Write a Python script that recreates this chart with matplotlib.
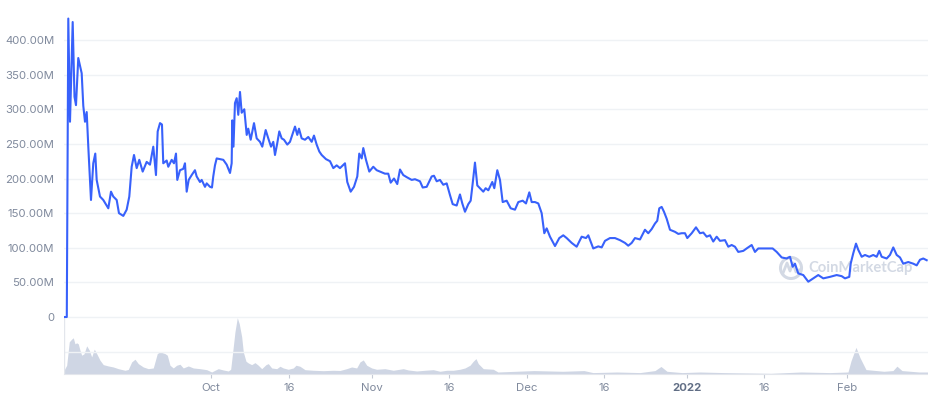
import matplotlib
matplotlib.use("Agg")
import matplotlib.pyplot as plt
from matplotlib.patches import Circle
import pandas as pd

plt.rcParams['font.family'] = ['Inter', 'DejaVu Sans']

start = pd.Timestamp("2021-09-03")

# market cap (millions USD), time in days after Sep 3 2021
sep_days = [-0.48, 0.06, 0.35, 0.68, 1.20, 1.55, 1.84, 2.28, 2.94, 3.25,
            3.58, 3.91, 4.22, 4.74, 5.18, 5.57, 5.84, 6.48, 7.12, 8.09,
            8.61, 9.05, 9.71, 10.15, 10.99, 11.64, 12.15, 12.61, 13.06, 13.58,
            14.08, 14.74, 15.51, 16.15, 16.79, 17.31, 17.64, 18.09, 18.47, 18.72,
            19.38, 19.69, 20.35, 20.79, 21.18, 21.43, 21.95, 22.59, 22.92, 23.25,
            23.64, 24.22, 24.85, 25.18, 25.82, 26.15, 26.79, 27.12, 27.76, 28.14,
            28.39, 28.72, 29.05, 29.69, 30.33, 30.99, 31.63, 31.95, 32.07, 32.30,
            32.59, 32.92, 33.23, 33.56, 33.89, 34.39, 34.86, 35.16, 35.63, 36.27,
            36.79, 37.43, 37.87, 38.53, 39.03, 39.56, 40.00, 40.33, 40.77, 41.16,
            41.62, 42.07, 42.71, 43.23, 43.75, 44.20, 44.64, 44.97, 45.49, 46.13,
            46.77, 47.43, 47.87, 48.39, 48.90]
sep_mcap = [0, 0, 431, 282, 426, 318, 306, 374, 352, 305,
            282, 296, 246, 169, 222, 236, 198, 174, 169, 157,
            181, 174, 169, 150, 146, 155, 174, 217, 234, 215,
            227, 210, 224, 220, 246, 205, 268, 280, 278, 222,
            226, 217, 227, 222, 236, 198, 212, 214, 222, 181,
            198, 205, 212, 203, 195, 198, 188, 193, 188, 187,
            203, 219, 229, 228, 227, 220, 208, 222, 284, 246,
            309, 316, 292, 325, 295, 300, 263, 272, 256, 280,
            258, 253, 246, 270, 258, 246, 253, 234, 251, 268,
            258, 256, 249, 253, 265, 275, 263, 272, 258, 256,
            260, 253, 262, 249, 239]

nov_days = [49.36, 50.19, 50.97, 51.61, 52.26, 52.90, 53.87, 54.31, 54.97, 55.61,
            56.25, 56.63, 57.10, 57.41, 57.93, 58.57, 59.34, 60.00, 60.64, 61.60,
            62.24, 62.71, 63.35, 63.98, 64.51, 65.14, 65.80, 66.77, 67.41, 68.37,
            68.90, 69.67, 70.64, 71.08, 71.61, 72.24, 72.88, 73.54, 74.18, 74.70,
            75.47, 76.11, 76.56, 77.08, 77.72, 78.18, 78.57, 79.01, 79.46, 79.98,
            80.62, 81.08, 81.59, 82.36, 82.75, 83.33, 83.85, 84.37, 85.14, 85.92,
            86.75, 87.39, 88.24, 88.88, 89.52, 89.98, 90.62, 91.26, 91.91, 92.42,
            92.88, 93.52, 94.49, 95.32, 96.09, 96.75, 97.72, 98.68, 99.65, 100.48,
            100.93, 101.89, 102.86, 103.52, 104.16]
nov_mcap = [234, 228, 225, 215, 219, 215, 222, 195, 181, 188,
            203, 236, 229, 244, 227, 210, 217, 212, 210, 207,
            207, 194, 200, 192, 213, 205, 202, 198, 199, 196,
            187, 188, 203, 204, 196, 198, 191, 193, 176, 163,
            161, 177, 164, 152, 163, 168, 193, 223, 190, 186,
            181, 186, 183, 195, 186, 212, 198, 166, 168, 157,
            155, 166, 168, 164, 180, 166, 166, 164, 150, 121,
            128, 116, 102.5, 114, 118, 114, 107, 101.5, 116, 114,
            118, 99, 102, 100.5, 110]

jan_days = [105.12, 106.09, 107.06, 108.03, 108.66, 109.32, 109.96, 110.93, 111.89, 112.53,
            113.19, 113.83, 114.27, 114.66, 115.12, 115.57, 116.09, 116.73, 117.70, 118.34,
            118.99, 119.63, 120.08, 120.93, 121.76, 122.53, 123.17, 123.83, 124.47, 125.10,
            125.76, 126.40, 127.37, 128.01, 128.66, 129.30, 129.94, 130.91, 131.56, 132.53,
            133.17, 133.81, 134.78, 135.74, 136.59, 137.37, 138.34, 139.30, 139.94, 140.46,
            140.91, 141.54, 142.51, 143.48, 144.45, 145.41, 146.38, 147.68, 148.97, 149.94,
            150.58, 151.41, 151.68, 152.18, 152.71, 153.15, 153.81, 154.45, 155.28, 156.05,
            156.71, 157.21, 157.68, 158.64, 159.28, 159.92, 160.58, 161.22, 161.85, 162.82,
            163.79, 164.45, 165.09, 165.72, 166.38]
jan_mcap = [114, 114, 111, 107, 103, 107, 114, 112, 126, 121,
            127, 135, 139, 157, 159, 152, 142, 126, 123, 120,
            121, 121, 114, 121, 129.5, 121, 122, 116, 118, 109,
            116, 110, 111, 101.5, 104, 101.5, 94, 95.5, 99, 104,
            94, 99, 99, 99, 99, 94, 86, 84.5, 87, 72.6,
            77, 63, 60.6, 51, 55.8, 60.6, 55.8, 58, 60.6, 59,
            55.8, 58, 77, 92, 106, 97, 87, 89.6, 87, 89.6,
            87, 95.5, 87, 84.5, 89.6, 100.5, 89.6, 86, 77, 79.4,
            77, 74.6, 82.7, 84.5, 82]

# relative trading volume
vol_days = [-0.48, 0.04, 0.54, 1.01, 1.32, 1.64, 1.97, 2.28, 2.61, 2.94,
            3.38, 3.91, 4.41, 4.87, 5.38, 5.84, 6.48, 7.12, 8.09, 9.05,
            10.02, 11.32, 11.95, 12.61, 13.25, 13.89, 14.85, 15.82, 16.79, 17.56,
            18.09, 19.05, 19.50, 20.02, 20.66, 21.31, 21.95, 22.59, 23.56, 24.53,
            25.82, 27.12, 28.08, 28.72, 29.36, 30.33, 31.30, 31.76, 32.15, 32.59,
            33.04, 33.42, 33.89, 34.20, 34.72, 35.16, 35.82, 36.46, 37.10, 37.76,
            38.59, 39.03, 39.69, 40.66, 41.30, 41.93, 42.90, 43.87, 44.39, 45.16,
            46.13, 47.74, 49.67, 51.61, 52.90, 54.20, 55.16, 56.13, 56.77, 57.41,
            58.07, 59.03, 60.00, 61.60, 63.21, 65.14, 66.11, 67.74, 69.34, 70.95,
            72.24, 73.54, 74.81, 76.11, 77.08, 78.05, 78.68, 79.21, 79.65, 80.62,
            82.55, 83.46, 86.94, 90.43, 96.03, 100.10, 101.84, 106.48, 110.93, 113.83,
            114.99, 116.15, 119.05, 122.53, 127.18, 136.27, 142.07, 147.68, 151.16, 151.74,
            152.71, 153.48, 154.64, 158.12, 159.86, 160.63, 161.60, 164.89, 166.63]
volume = [3.7, 8.7, 32, 34.7, 36, 30, 31, 30, 23.7, 18.7,
          20, 28, 23.7, 17, 24.7, 20.3, 13.7, 9.3, 8, 7,
          5.3, 3.7, 4.5, 12, 14.7, 10.3, 7, 5.3, 6, 20.3,
          22, 20.3, 18.7, 8.7, 6, 8.7, 9.7, 6, 8, 6,
          5.3, 4.3, 2, 3.7, 5.3, 4, 3, 4.7, 22, 42,
          56, 50, 37, 22, 12.7, 11, 9.3, 11.3, 8.7, 5.3,
          9.3, 10.3, 6, 5.3, 7.7, 6, 4.7, 6, 8.7, 7.7,
          4.3, 3.7, 3.3, 3.7, 3.5, 5.3, 7, 6, 12, 14,
          8.7, 6, 4.7, 5.3, 3.7, 5.3, 4, 3, 3.7, 4.3,
          2.7, 3.7, 3.7, 4.7, 6, 8.7, 12.7, 15.3, 10.3, 5.3,
          4.7, 2, 2.7, 3.4, 2.7, 3.4, 1.4, 2, 1.4, 3.4,
          7.5, 2.7, 1.4, 2, 1.4, 0.7, 2, 1.4, 2, 13,
          26.5, 16.3, 4.4, 2.7, 3.4, 7.8, 3.4, 2, 2]

ytick_vals = [0, 50, 100, 150, 200, 250, 300, 350, 400]
tick_dates = ["2021-10-01", "2021-10-16", "2021-11-01", "2021-11-16", "2021-12-01",
              "2021-12-16", "2022-01-01", "2022-01-16", "2022-02-01"]
tick_labels = ["Oct", "16", "Nov", "16", "Dec", "16", "2022", "16", "Feb"]

price_t = start + pd.to_timedelta(sep_days + nov_days + jan_days, unit="D")
price_v = sep_mcap + nov_mcap + jan_mcap
vol_t = start + pd.to_timedelta(vol_days, unit="D")

grid_c = "#eff2f5"
label_c = "#808a9d"

fig = plt.figure(figsize=(9.29, 4), dpi=100)
ax = fig.add_axes([64 / 929, 26 / 400, 865 / 929, 374 / 400])
axv = ax.twinx()
ax.set_zorder(axv.get_zorder() + 1)
ax.patch.set_visible(False)

x0 = start + pd.Timedelta(days=-0.48)
x1 = start + pd.Timedelta(days=166.83)

# volume
axv.fill_between(vol_t, 0, volume, color="#cfd6e4", lw=0)
axv.set_ylim(0, max(volume) * 6.64)
axv.set_axis_off()

# price line
ax.plot(price_t, price_v, color="#3861fb", lw=1.5, zorder=3, solid_joinstyle="round")
ax.set_xlim(x0, x1)
ax.set_ylim(-82.3, 457.8)

for v in ytick_vals + [-50]:
    ax.axhline(v, color=grid_c, lw=1, zorder=0)
ax.axvline(x0, ymin=0, ymax=82.3 / 540.1, color="#e3e6ec", lw=1, zorder=0)

ax.set_yticks(ytick_vals)
ax.set_yticklabels(["0"] + [f"{v:.2f}M" for v in ytick_vals[1:]])
ax.tick_params(axis="y", length=0, pad=7, labelsize=8.2, labelcolor=label_c)

ax.set_xticks(pd.to_datetime(tick_dates))
ax.set_xticklabels(tick_labels)
ax.tick_params(axis="x", length=3, width=0.8, color="#c5cad5", pad=3.5,
               labelsize=8.2, labelcolor=label_c)
for lab in ax.get_xticklabels():
    if lab.get_text() == "2022":
        lab.set_fontweight("bold")
        lab.set_color("#616e85")

for s in ["top", "right", "left"]:
    ax.spines[s].set_visible(False)
ax.spines["bottom"].set_color("#e3e6ec")

# watermark
wm_c = "#d3d9e4"
ax.add_patch(Circle((7.91, 1.32), 0.105, transform=fig.dpi_scale_trans,
                    fill=False, ec=wm_c, lw=2.2, zorder=1, clip_on=False))
ax.plot([7.83, 7.87, 7.90, 7.93, 7.96, 7.99], [1.27, 1.37, 1.29, 1.37, 1.28, 1.30],
        transform=fig.dpi_scale_trans, color=wm_c, lw=2, zorder=1, clip_on=False)
ax.text(0.860, 0.283, "CoinMarketCap", transform=ax.transAxes, ha="left", va="center",
        color=wm_c, fontsize=10.6, fontweight="bold", family="Lato", zorder=1)

fig.savefig("out.png", dpi=100)
